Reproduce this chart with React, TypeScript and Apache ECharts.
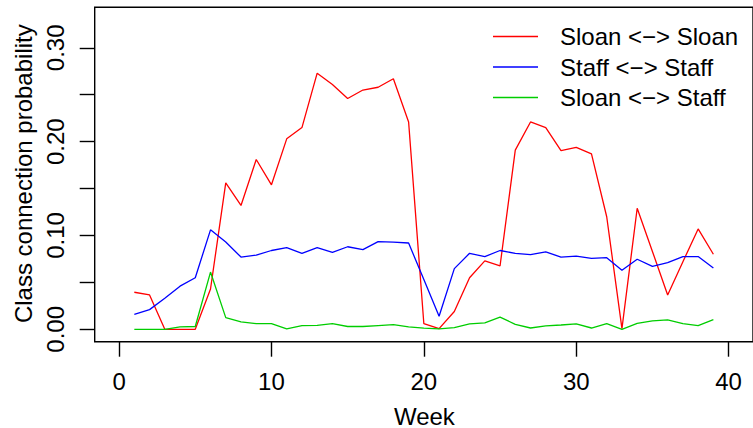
import React, { useEffect, useRef } from "react";
import * as echarts from "echarts";

const weeks = [1, 2, 3, 4, 5, 6, 7, 8, 9, 10, 11, 12, 13, 14, 15, 16, 17, 18, 19, 20, 21, 22, 23, 24, 25, 26, 27, 28, 29, 30, 31, 32, 33, 34, 35, 36, 37, 38, 39];

const sloanSloan = [0.0395, 0.0366, 0, 0, 0, 0.043, 0.156, 0.132, 0.181, 0.154, 0.203, 0.215, 0.273, 0.261, 0.246, 0.255, 0.258, 0.267, 0.221, 0.006, 0.0007, 0.019, 0.055, 0.073, 0.0675, 0.191, 0.221, 0.215, 0.1905, 0.194, 0.187, 0.12, 0.0007, 0.129, 0.083, 0.0366, 0.072, 0.107, 0.08];
const staffStaff = [0.016, 0.021, 0.033, 0.046, 0.055, 0.106, 0.093, 0.077, 0.079, 0.084, 0.087, 0.081, 0.087, 0.082, 0.088, 0.085, 0.0935, 0.093, 0.092, 0.053, 0.0139, 0.0647, 0.081, 0.0775, 0.084, 0.081, 0.0796, 0.0825, 0.077, 0.078, 0.0757, 0.0764, 0.063, 0.0747, 0.067, 0.071, 0.0775, 0.0775, 0.0654];
const sloanStaff = [0, 0, 0, 0.0025, 0.003, 0.061, 0.0125, 0.008, 0.006, 0.006, 0.0004, 0.004, 0.0043, 0.006, 0.003, 0.003, 0.004, 0.005, 0.0025, 0.0012, 0.0004, 0.0018, 0.0057, 0.0068, 0.013, 0.0053, 0.0014, 0.0036, 0.0046, 0.0057, 0.0014, 0.006, 0, 0.0064, 0.009, 0.01, 0.006, 0.004, 0.0103];

const seriesNames = ["Sloan <\u2212> Sloan", "Staff <\u2212> Staff", "Sloan <\u2212> Staff"];
const seriesColors = ["#FF0000", "#0000FF", "#00CD00"];

const xTicks = [0, 10, 20, 30, 40];
const yTicks = [0, 0.05, 0.1, 0.15, 0.2, 0.25, 0.3];
const yLabels = [0, 0.1, 0.2, 0.3];

const xTitle = "Week";
const yTitle = "Class connection probability";

export default function App() {
  const ref = useRef<HTMLDivElement>(null);

  useEffect(() => {
    document.body.style.margin = "0";
    const chart = echarts.init(ref.current as HTMLDivElement, null, { renderer: "svg" });
    const font = "'Liberation Sans', Arial, Helvetica, sans-serif";
    const fs = 24;
    const values = [sloanSloan, staffStaff, sloanStaff];

    const legendX1 = 493;
    const legendX2 = 538;
    const legendTextX = 560;
    const legendY0 = 36.5;
    const legendGap = 30.5;

    const legendGraphics: any[] = [];
    seriesNames.forEach((name, i) => {
      const y = legendY0 + i * legendGap;
      legendGraphics.push({
        type: "line",
        shape: { x1: legendX1, y1: y, x2: legendX2, y2: y },
        style: { stroke: seriesColors[i], lineWidth: 1.3 },
      });
      legendGraphics.push({
        type: "text",
        x: legendTextX,
        y: y,
        style: {
          text: name,
          font: `${fs}px ${font}`,
          fill: "#000",
          align: "left",
          textAlign: "left",
          verticalAlign: "middle",
          textVerticalAlign: "middle",
        },
      });
    });

    chart.setOption({
      animation: false,
      grid: {
        left: 94.7,
        top: 7.3,
        width: 659.3,
        height: 334.4,
        show: true,
        borderColor: "#000",
        borderWidth: 1.4,
        backgroundColor: "transparent",
      },
      xAxis: {
        type: "value",
        min: -1.6,
        max: 41.6,
        position: "bottom",
        axisLine: { show: false, onZero: false },
        splitLine: { show: false },
        axisTick: {
          show: true,
          customValues: xTicks,
          length: 15,
          lineStyle: { color: "#000", width: 1.4 },
        },
        axisLabel: {
          customValues: xTicks,
          fontSize: fs,
          fontFamily: font,
          color: "#000",
          margin: 28,
        },
      },
      yAxis: {
        type: "value",
        min: -0.0132,
        max: 0.3432,
        position: "left",
        axisLine: { show: false, onZero: false },
        splitLine: { show: false },
        axisTick: {
          show: true,
          customValues: yTicks,
          length: 15,
          lineStyle: { color: "#000", width: 1.4 },
        },
        axisLabel: {
          customValues: yLabels,
          rotate: 90,
          fontSize: fs,
          fontFamily: font,
          color: "#000",
          margin: 27,
          formatter: (v: number) => v.toFixed(2),
        },
      },
      series: values.map((d, i) => ({
        type: "line",
        name: seriesNames[i],
        data: weeks.map((w, j) => [w, d[j]]),
        symbol: "none",
        showSymbol: false,
        clip: false,
        lineStyle: { color: seriesColors[i], width: 1.3 },
        itemStyle: { color: seriesColors[i] },
      })),
      graphic: [
        {
          type: "text",
          x: 424.4,
          y: 416,
          style: {
            text: xTitle,
            font: `${fs}px ${font}`,
            fill: "#000",
            align: "center",
            textAlign: "center",
            verticalAlign: "middle",
            textVerticalAlign: "middle",
          },
        },
        {
          type: "text",
          x: 23,
          y: 173.7,
          rotation: Math.PI / 2,
          style: {
            text: yTitle,
            font: `${fs}px ${font}`,
            fill: "#000",
            align: "center",
            textAlign: "center",
            verticalAlign: "middle",
            textVerticalAlign: "middle",
          },
        },
        ...legendGraphics,
      ],
    });
    return () => chart.dispose();
  }, []);

  return <div ref={ref} style={{ width: 753, height: 428 }} />;
}
